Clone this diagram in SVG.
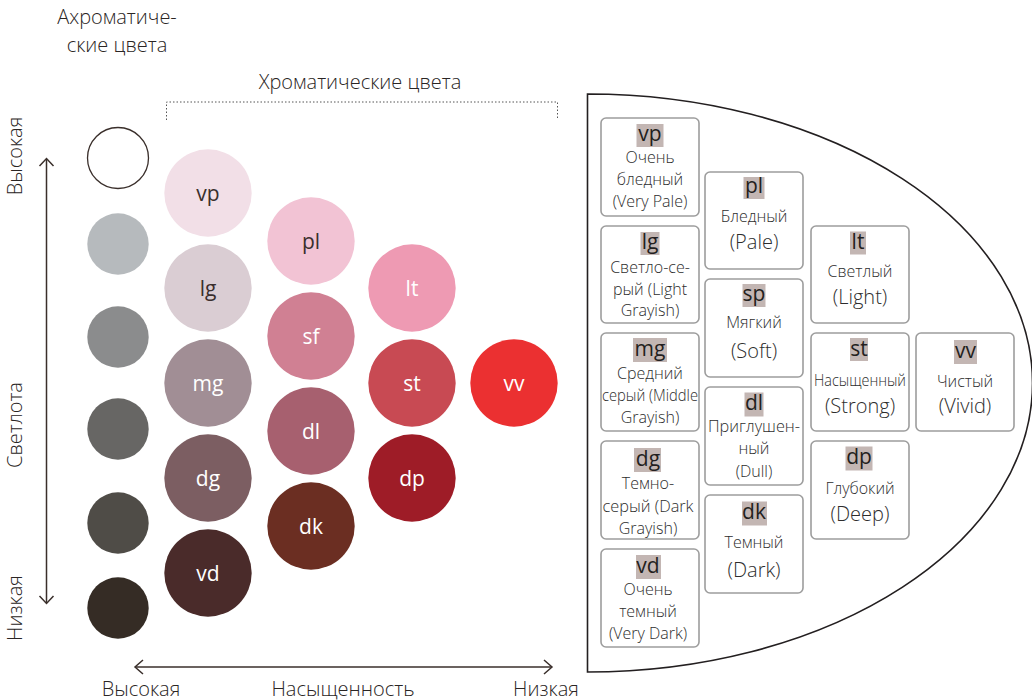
<svg xmlns="http://www.w3.org/2000/svg" width="1032" height="700" viewBox="0 0 1032 700">
<defs>
<style>
text{font-family:"Open Sans","Noto Sans",sans-serif;}
.hdr{font-size:20px;fill:#2a2524;font-weight:300;}
.ax{font-size:20px;fill:#2a2524;font-weight:300;}
.cl{font-size:21px;text-anchor:middle;fill:#ffffff;}
.cd{fill:#3a2f2d;}
.box{fill:#ffffff;stroke:#9d9d9d;stroke-width:1.6;}
.hl{fill:#c3b6b3;}
.ab{font-size:21px;text-anchor:middle;fill:#231f20;}
.sm{font-size:16px;text-anchor:middle;fill:#2d2d2d;font-weight:300;}
.lg{font-size:20px;text-anchor:middle;fill:#2d2d2d;font-weight:300;}
.axis{stroke:#3a2f2b;stroke-width:1.5;fill:none;}
</style>
</defs>
<rect width="1032" height="700" fill="#ffffff"/>

<g id="headers">
<text class="hdr" x="117" y="24" text-anchor="middle">Ахроматиче-</text>
<text class="hdr" x="117" y="52" text-anchor="middle">ские цвета</text>
<text class="hdr" x="360" y="89" text-anchor="middle">Хроматические цвета</text>
<path d="M166.5,120 V102 H557.5 V120" fill="none" stroke="#555" stroke-width="1" stroke-dasharray="1.5,2"/>
</g>

<g id="axes">
<path class="axis" d="M46.5,159 V603"/>
<path class="axis" d="M39.5,166 L46.5,158.5 L53.5,166"/>
<path class="axis" d="M39.5,596 L46.5,603.5 L53.5,596"/>
<path class="axis" d="M135,667 H552"/>
<path class="axis" d="M143,660 L135,667 L143,674"/>
<path class="axis" d="M544,660 L552,667 L544,674"/>
<text class="ax" transform="translate(22,156) rotate(-90)" text-anchor="middle">Высокая</text>
<text class="ax" transform="translate(22,425) rotate(-90)" text-anchor="middle">Светлота</text>
<text class="ax" transform="translate(22,608) rotate(-90)" text-anchor="middle">Низкая</text>
<text class="ax" x="141" y="696" text-anchor="middle">Высокая</text>
<text class="ax" x="343" y="696" text-anchor="middle">Насыщенность</text>
<text class="ax" x="546" y="696" text-anchor="middle">Низкая</text>
</g>

<g id="achromatic">
<circle cx="118" cy="158" r="30.5" fill="#ffffff" stroke="#3a2f2b" stroke-width="1.3"/>
<circle cx="118" cy="244" r="30.7" fill="#b6babd"/>
<circle cx="118" cy="337" r="30.7" fill="#8b8c8d"/>
<circle cx="118" cy="429" r="30.7" fill="#676664"/>
<circle cx="118" cy="523" r="30.7" fill="#4f4c47"/>
<circle cx="118" cy="608" r="30.7" fill="#352c25"/>
</g>

<g id="chromatic">
<g id="c-vp"><circle cx="208" cy="193" r="43.7" fill="#f2dfe7"/><text class="cl cd" x="208" y="201">vp</text></g>
<g id="c-lg"><circle cx="208" cy="288" r="43.7" fill="#dacdd3"/><text class="cl cd" x="208" y="296">lg</text></g>
<g id="c-mg"><circle cx="208" cy="383" r="43.7" fill="#a18e95"/><text class="cl" x="208" y="391">mg</text></g>
<g id="c-dg"><circle cx="208" cy="478" r="43.7" fill="#7c5e62"/><text class="cl" x="208" y="486">dg</text></g>
<g id="c-vd"><circle cx="208" cy="573" r="43.7" fill="#4a2b2a"/><text class="cl" x="208" y="581">vd</text></g>
<g id="c-pl"><circle cx="311" cy="241" r="43.7" fill="#f2c3d4"/><text class="cl cd" x="311" y="249">pl</text></g>
<g id="c-sf"><circle cx="311" cy="336" r="43.7" fill="#d08093"/><text class="cl" x="311" y="344">sf</text></g>
<g id="c-dl"><circle cx="311" cy="431" r="43.7" fill="#a7606f"/><text class="cl" x="311" y="439">dl</text></g>
<g id="c-dk"><circle cx="311" cy="526" r="43.7" fill="#6b2e22"/><text class="cl" x="311" y="534">dk</text></g>
<g id="c-lt"><circle cx="412" cy="288" r="43.7" fill="#ee9ab3"/><text class="cl" x="412" y="296">lt</text></g>
<g id="c-st"><circle cx="412" cy="383" r="43.7" fill="#c84a53"/><text class="cl" x="412" y="391">st</text></g>
<g id="c-dp"><circle cx="412" cy="478" r="43.7" fill="#9e1c27"/><text class="cl" x="412" y="486">dp</text></g>
<g id="c-vv"><circle cx="514" cy="383" r="43.7" fill="#eb3031"/><text class="cl" x="514" y="391">vv</text></g>
</g>

<g id="panel">
<path d="M587.5,94 A445,289 0 0 1 587.5,672 Z" fill="#ffffff" stroke="#231f20" stroke-width="1.6"/>
</g>

<g id="b-vp"><rect class="box" x="601" y="118" width="98" height="98" rx="5"/><rect class="hl" x="636.5" y="124" width="27" height="23"/><text class="ab" x="650" y="141">vp</text><text class="sm" x="650" y="163">Очень</text><text class="sm" x="650" y="185">бледный</text><text class="sm" x="650" y="207">(Very Pale)</text></g>
<g id="b-lg"><rect class="box" x="601" y="226" width="98" height="97" rx="5"/><rect class="hl" x="640.5" y="232" width="19" height="23"/><text class="ab" x="650" y="249">lg</text><text class="sm" x="650" y="273">Светло-се-</text><text class="sm" x="650" y="295">рый (Light</text><text class="sm" x="650" y="316">Grayish)</text></g>
<g id="b-mg"><rect class="box" x="601" y="333" width="98" height="98" rx="5"/><rect class="hl" x="633" y="338" width="34" height="24"/><text class="ab" x="650" y="356">mg</text><text class="sm" x="650" y="379">Средний</text><text class="sm" x="650" y="401" textLength="96" lengthAdjust="spacingAndGlyphs">серый (Middle</text><text class="sm" x="650" y="423">Grayish)</text></g>
<g id="b-dg"><rect class="box" x="601" y="441" width="98" height="98" rx="5"/><rect class="hl" x="634" y="448" width="27" height="24"/><text class="ab" x="648" y="466">dg</text><text class="sm" x="648" y="489">Темно-</text><text class="sm" x="648" y="512" textLength="91" lengthAdjust="spacingAndGlyphs">серый (Dark</text><text class="sm" x="648" y="534">Grayish)</text></g>
<g id="b-vd"><rect class="box" x="601" y="549" width="98" height="98" rx="5"/><rect class="hl" x="636" y="555" width="25" height="24"/><text class="ab" x="648" y="573">vd</text><text class="sm" x="648" y="595">Очень</text><text class="sm" x="648" y="617">темный</text><text class="sm" x="648" y="639">(Very Dark)</text></g>

<g id="b-pl"><rect class="box" x="705" y="172" width="98" height="97" rx="5"/><rect class="hl" x="743.5" y="177" width="21" height="22"/><text class="ab" x="754" y="193">pl</text><text class="sm" x="754" y="222">Бледный</text><text class="lg" x="754" y="249">(Pale)</text></g>
<g id="b-sp"><rect class="box" x="705" y="279" width="98" height="98" rx="5"/><rect class="hl" x="742.5" y="284" width="23" height="23"/><text class="ab" x="754" y="301">sp</text><text class="sm" x="754" y="328">Мягкий</text><text class="lg" x="754" y="358">(Soft)</text></g>
<g id="b-dl"><rect class="box" x="705" y="387" width="98" height="98" rx="5"/><rect class="hl" x="744.5" y="392.5" width="19" height="24"/><text class="ab" x="754" y="410">dl</text><text class="sm" x="754" y="432" textLength="92" lengthAdjust="spacingAndGlyphs">Приглушен-</text><text class="sm" x="754" y="454">ный</text><text class="sm" x="754" y="477">(Dull)</text></g>
<g id="b-dk"><rect class="box" x="705" y="495" width="98" height="98" rx="5"/><rect class="hl" x="742" y="501.5" width="25" height="24"/><text class="ab" x="754" y="519">dk</text><text class="sm" x="754" y="548">Темный</text><text class="lg" x="754" y="577">(Dark)</text></g>

<g id="b-lt"><rect class="box" x="811" y="226" width="98" height="97" rx="5"/><rect class="hl" x="850" y="231.5" width="16" height="23"/><text class="ab" x="858" y="249">lt</text><text class="sm" x="860" y="277">Светлый</text><text class="lg" x="860" y="304">(Light)</text></g>
<g id="b-st"><rect class="box" x="811" y="333" width="98" height="98" rx="5"/><rect class="hl" x="850" y="338" width="18" height="23"/><text class="ab" x="859" y="356">st</text><text class="sm" x="860" y="386" textLength="92" lengthAdjust="spacingAndGlyphs">Насыщенный</text><text class="lg" x="860" y="413">(Strong)</text></g>
<g id="b-dp"><rect class="box" x="811" y="441" width="98" height="98" rx="5"/><rect class="hl" x="845.5" y="446.5" width="27" height="24"/><text class="ab" x="859" y="464">dp</text><text class="sm" x="860" y="494">Глубокий</text><text class="lg" x="860" y="521">(Deep)</text></g>

<g id="b-vv"><rect class="box" x="916" y="333" width="98" height="98" rx="5"/><rect class="hl" x="954" y="340" width="23" height="24"/><text class="ab" x="965.5" y="358">vv</text><text class="sm" x="965" y="387">Чистый</text><text class="lg" x="965" y="413">(Vivid)</text></g>
</svg>
